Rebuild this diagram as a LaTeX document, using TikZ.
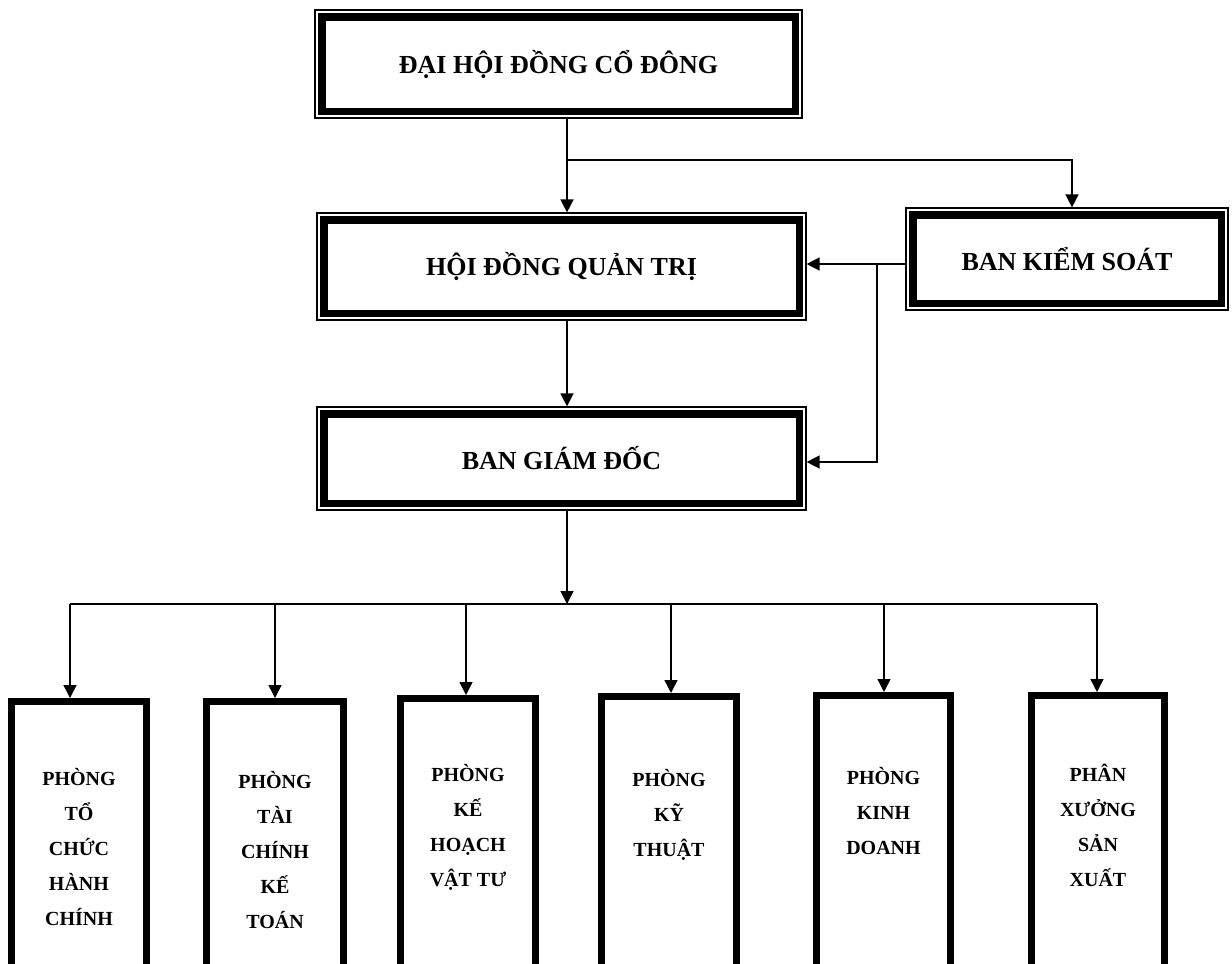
\documentclass[tikz,border=0pt]{standalone}
\usepackage{fontspec}
\setmainfont{Liberation Serif}
\usetikzlibrary{arrows.meta}
\tikzset{
  dnode/.style={draw, line width=7.5pt, inner sep=0pt, outer sep=7.35pt,
    font=\fontsize{26}{30}\selectfont\bfseries, align=center},
  thinline/.style={line width=1.2pt},
  pnode/.style={draw, line width=7pt, inner sep=0pt, outer sep=3.5pt,
    anchor=north, minimum height=340pt},
  ptext/.style={font=\fontsize{20}{35}\selectfont\bfseries, align=center,
    anchor=north, inner sep=0pt},
  conn/.style={line width=1.5pt},
  arr/.style={line width=1.5pt, -{Triangle[length=13pt,width=13pt]}}
}
\newcommand\dblbox[6]{%
  \node[dnode, minimum width=#4pt, minimum height=#5pt] (#1) at (#2,#3) {#6};
  \draw[thinline] ([shift={(0.6pt,-0.6pt)}]#1.north west) rectangle ([shift={(-0.6pt,0.6pt)}]#1.south east);
}
\begin{document}
\begin{tikzpicture}[x=1pt,y=-1pt]
\clip (0,0) rectangle (1232,964);
\fill[white] (0,0) rectangle (1232,964);

\dblbox{dh}{558.5}{64}{473.5}{94.5}{ĐẠI HỘI ĐỒNG CỔ ĐÔNG}
\dblbox{hd}{561.5}{266.5}{475.5}{93.5}{HỘI ĐỒNG QUẢN TRỊ}
\dblbox{bg}{561.5}{458.5}{475.5}{89.5}{BAN GIÁM ĐỐC}
\dblbox{bks}{1067}{259}{308.5}{88.5}{BAN KIỂM SOÁT}

\node[pnode, minimum width=135pt] (p1) at (79,698) {};
\node[pnode, minimum width=137pt] (p2) at (275,698) {};
\node[pnode, minimum width=135pt] (p3) at (468,695) {};
\node[pnode, minimum width=135pt] (p4) at (669,693) {};
\node[pnode, minimum width=134pt] (p5) at (883.5,692) {};
\node[pnode, minimum width=133pt] (p6) at (1098,692) {};

\node[ptext] (t1) at (79,768) {PHÒNG\\TỔ\\CHỨC\\HÀNH\\CHÍNH};
\node[ptext] (t2) at (275,771) {PHÒNG\\TÀI\\CHÍNH\\KẾ\\TOÁN};
\node[ptext] (t3) at (468,764) {PHÒNG\\KẾ\\HOẠCH\\VẬT TƯ};
\node[ptext] (t4) at (669,769) {PHÒNG\\KỸ\\THUẬT};
\node[ptext] (t5) at (883.5,767) {PHÒNG\\KINH\\DOANH};
\node[ptext] (t6) at (1098,764) {PHÂN\\XƯỞNG\\SẢN\\XUẤT};

\coordinate (cx) at (567,0);
\coordinate (kx) at (1072,0);
\coordinate (ky) at (0,264);
\coordinate (gy) at (0,462);
\coordinate (j1) at (567,160);
\coordinate (j2) at (877,264);
\coordinate (j3) at (567,604);
\coordinate (b1) at (70,604);
\coordinate (b2) at (275,604);
\coordinate (b3) at (466,604);
\coordinate (b4) at (671,604);
\coordinate (b5) at (884,604);
\coordinate (b6) at (1097,604);

\draw[arr] (dh.south -| cx) -- (hd.north -| cx);
\draw[arr] (j1) -| (bks.north -| kx);
\draw[arr] (bks.west |- ky) -- (hd.east |- ky);
\draw[arr] (j2) |- (bg.east |- gy);
\draw[arr] (hd.south -| cx) -- (bg.north -| cx);
\draw[arr] (bg.south -| cx) -- (j3);
\draw[conn] (b1) -- (b6);
\draw[arr] (b1) -- (p1.north -| b1);
\draw[arr] (b2) -- (p2.north -| b2);
\draw[arr] (b3) -- (p3.north -| b3);
\draw[arr] (b4) -- (p4.north -| b4);
\draw[arr] (b5) -- (p5.north -| b5);
\draw[arr] (b6) -- (p6.north -| b6);
\end{tikzpicture}
\end{document}
